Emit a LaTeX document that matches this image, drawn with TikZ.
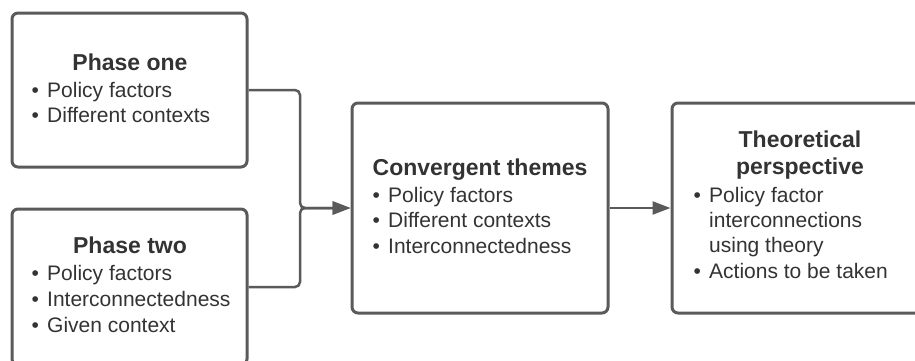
\documentclass[tikz,border=0pt]{standalone}
\usepackage{fontspec}
\setmainfont{Liberation Sans}
\usetikzlibrary{arrows.meta}
\definecolor{linec}{HTML}{5A5A5A}
\definecolor{textc}{HTML}{333333}
\newcommand{\bitem}{\makebox[15.5pt][l]{•}}
\tikzset{
  box/.style={draw=linec, line width=3pt, rounded corners=6pt, fill=white, inner sep=0pt},
  conn/.style={draw=linec, line width=2.5pt, rounded corners=5pt,
    -{Triangle[length=18pt,width=13pt]}},
  head/.style={anchor=base, inner sep=0pt, text=textc, font=\fontsize{23}{27}\selectfont\bfseries},
  line/.style={anchor=base west, inner sep=0pt, text=textc, font=\fontsize{21}{25}\selectfont},
}
\begin{document}
\begin{tikzpicture}[x=1pt,y=1pt]
\useasboundingbox (0,0) rectangle (915,360);
\clip (0,0) rectangle (915,360);

% boxes
\node[box, minimum width=235pt, minimum height=154pt] (p1) at (129.5,270) {};
\node[box, minimum width=235pt, minimum height=156pt] (p2) at (129.5,73) {};
\node[box, minimum width=256pt, minimum height=210pt] (cv) at (480,152) {};
\node[box, minimum width=253pt, minimum height=210pt] (th) at (798.5,152) {};

% connectors
\coordinate (j) at (300,152);
\draw[conn] (p1.east) -| (j) -- (cv.west);
\draw[conn] (p2.east) -| (j) -- (cv.west);
\draw[conn] (cv.east) -- (th.west);

% phase one
\node[head] (p1h) at (130,290) {Phase one};
\node[line] (p1a) at (31.5,263) {\bitem Policy factors};
\node[line] (p1b) at (31.5,238) {\bitem Different contexts};

% phase two
\node[head] (p2h) at (130,107) {Phase two};
\node[line] (p2a) at (31.5,80) {\bitem Policy factors};
\node[line] (p2b) at (31.5,54) {\bitem Interconnectedness};
\node[line] (p2c) at (31.5,28) {\bitem Given context};

% convergent themes
\node[head] (cvh) at (480,185) {Convergent themes};
\node[line] (cva) at (372.5,158) {\bitem Policy factors};
\node[line] (cvb) at (372.5,133) {\bitem Different contexts};
\node[line] (cvc) at (372.5,107) {\bitem Interconnectedness};

% theoretical perspective
\node[head] (thh1) at (800,213) {Theoretical};
\node[head] (thh2) at (800,186) {perspective};
\node[line] (tha) at (693.5,158) {\bitem Policy factor};
\node[line] (thb) at (709,133) {interconnections};
\node[line] (thc) at (709,108) {using theory};
\node[line] (thd) at (693.5,82) {\bitem Actions to be taken};
\end{tikzpicture}
\end{document}
